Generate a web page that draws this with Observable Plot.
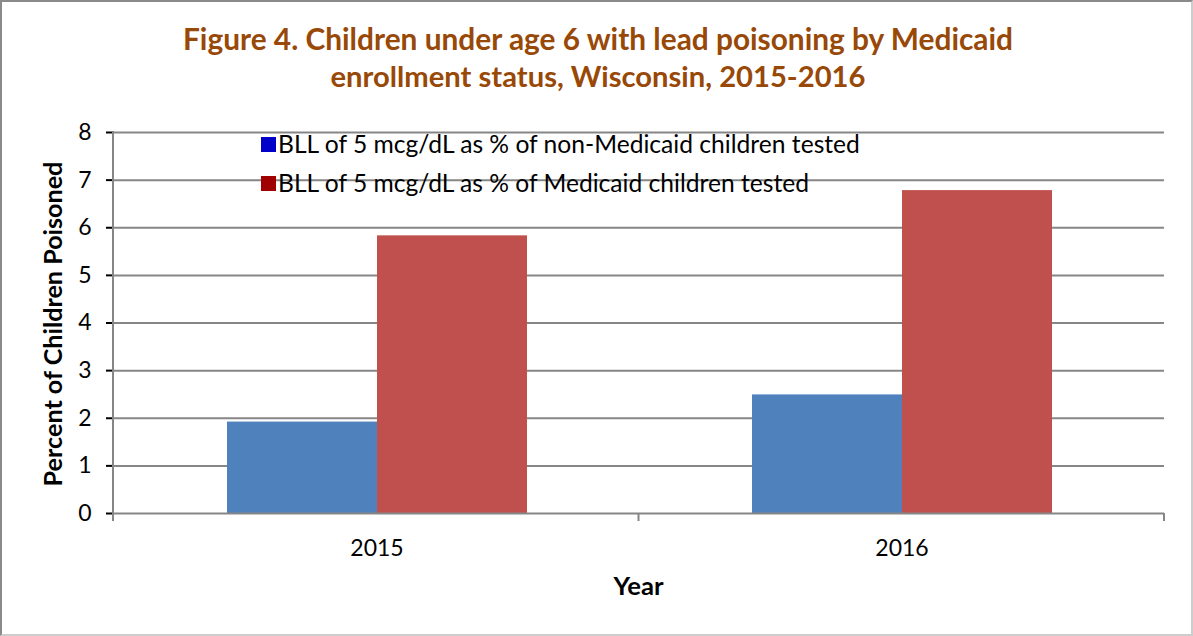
<!DOCTYPE html>
<html>
<head>
<meta charset="utf-8">
<script src="https://cdn.jsdelivr.net/npm/d3@7"></script>
<script src="https://cdn.jsdelivr.net/npm/@observablehq/plot@0.6"></script>
<style>
  body { margin: 0; background: #fff; }
  #wrap { position: relative; width: 1193px; height: 636px; font-family: Lato, "Open Sans", sans-serif; }
  #frame { position: absolute; left: 0; top: 0; width: 1193px; height: 636px; box-sizing: border-box;
           border-left: 2px solid #8a8a8a; border-top: 2px solid #8a8a8a;
           border-right: 2px solid #cdcdcd; border-bottom: 2px solid #cdcdcd; pointer-events: none; }
  #chart { position: absolute; left: 0; top: 0; }
  #overlay { position: absolute; left: 0; top: 0; pointer-events: none; }
  #chart svg [aria-label="y-axis tick"], #chart svg [aria-label="y-axis"] line { stroke: #868686; stroke-width: 2px; }
  #chart svg [aria-label="y-axis"] path.domain { display: none; }
</style>
</head>
<body>
<div id="wrap">
  <div id="chart"></div>
  <svg id="overlay" width="1193" height="636"></svg>
  <div id="frame"></div>
</div>
<script>
// ---- data ----
const years = ["2015", "2016"];
const seriesNames = [
  "BLL of 5 mcg/dL as % of non-Medicaid children tested",
  "BLL of 5 mcg/dL as % of Medicaid children tested"
];
const nonMedicaidValues = [1.92, 2.49];
const medicaidValues = [5.83, 6.78];
const yTicks = [0, 1, 2, 3, 4, 5, 6, 7, 8];
const barColors = ["#4F81BD", "#C0504D"];
const legendColors = ["#0000C8", "#A00000"];
const titleLines = [
  "Figure 4. Children under age 6 with lead poisoning by Medicaid",
  "enrollment status, Wisconsin, 2015-2016"
];
const yTitle = "Percent of Children Poisoned";
const xTitle = "Year";

// table built from the arrays
const rows = [];
years.forEach((yr, i) => {
  rows.push({year: yr, series: seriesNames[0], value: nonMedicaidValues[i]});
  rows.push({year: yr, series: seriesNames[1], value: medicaidValues[i]});
});

const W = 1193, H = 636;
const chart = Plot.plot({
  width: W,
  height: H,
  marginLeft: 113,
  marginRight: 29,
  marginTop: 132,
  marginBottom: 123,
  style: {fontFamily: "Lato, 'Open Sans', sans-serif", fontSize: "23px", color: "#000", background: "transparent", overflow: "visible"},
  facet: {data: rows, x: "year"},
  fx: {domain: years, padding: 0, label: null, tickSize: 0, tickPadding: 26, axis: "bottom"},
  x: {domain: seriesNames, paddingInner: 0, paddingOuter: 0.745, axis: null},
  y: {domain: [0, 8], ticks: yTicks, tickSize: 8, tickPadding: 15, label: null, grid: false},
  color: {domain: seriesNames, range: barColors},
  marks: [
    Plot.ruleY(yTicks.slice(1), {stroke: "#868686", strokeWidth: 2}),
    Plot.barY(rows, {x: "series", y: "value", fill: "series"}),
    Plot.ruleY([0], {stroke: "#868686", strokeWidth: 2})
  ]
});
document.getElementById("chart").appendChild(chart);

// axis decorations drawn from the library's scales
const fx = chart.scale("fx");
const ys = chart.scale("y");
const band = d3.scaleBand().domain(fx.domain).range(fx.range).padding(0);
const y0 = ys.apply(0), yTop = ys.apply(8);
const edges = years.map(d => band(d)).concat([band(years[years.length - 1]) + band.bandwidth()]);
const deco = d3.select(chart).append("g").attr("stroke", "#868686").attr("stroke-width", 2);
deco.append("line").attr("x1", edges[0]).attr("x2", edges[0]).attr("y1", yTop).attr("y2", y0);
edges.forEach(x => deco.append("line").attr("x1", x).attr("x2", x).attr("y1", y0).attr("y2", y0 + 8));

// overlay text: title, legend, axis titles
const ov = d3.select("#overlay");
function fit(sel, target) {
  const len = sel.node().getComputedTextLength();
  const fs = parseFloat(sel.attr("font-size"));
  if (len > 0) sel.attr("font-size", (fs * target / len).toFixed(2));
}
const titleColor = "#984807";
const titleBase = [50, 87];
const titleWidths = [830, 535];
titleLines.forEach((t, i) => {
  const s = ov.append("text").attr("x", 598).attr("y", titleBase[i]).attr("text-anchor", "middle")
    .attr("font-family", "Lato, sans-serif").attr("font-weight", 700).attr("font-size", 28)
    .attr("fill", titleColor).text(t);
  fit(s, titleWidths[i]);
});

const legBase = [153, 192];
const legWidths = [582, 531];
seriesNames.forEach((n, i) => {
  ov.append("rect").attr("x", 261).attr("y", legBase[i] - 16).attr("width", 15).attr("height", 15).attr("fill", legendColors[i]);
  const s = ov.append("text").attr("x", 278).attr("y", legBase[i])
    .attr("font-family", "Lato, sans-serif").attr("font-size", 21).attr("fill", "#000").text(n);
  fit(s, legWidths[i]);
});

const yt = ov.append("text").attr("transform", "translate(62,324) rotate(-90)").attr("text-anchor", "middle")
  .attr("font-family", "Lato, sans-serif").attr("font-weight", 700).attr("font-size", 21).attr("fill", "#000").text(yTitle);
fit(yt, 325);
const xt = ov.append("text").attr("x", (edges[0] + edges[edges.length - 1]) / 2).attr("y", 595).attr("text-anchor", "middle")
  .attr("font-family", "Lato, sans-serif").attr("font-weight", 700).attr("font-size", 21).attr("fill", "#000").text(xTitle);
fit(xt, 50);
</script>
</body>
</html>
